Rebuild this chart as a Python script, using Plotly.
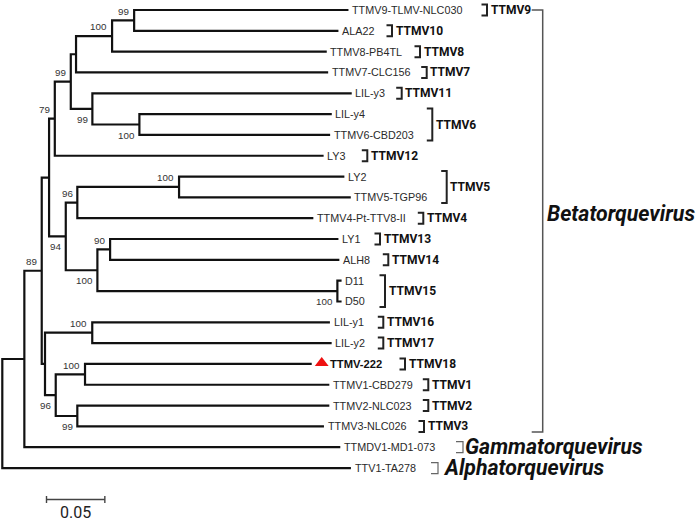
import plotly.graph_objects as go

# ---------------- data: tree topology, branch lengths, bootstrap ----------------
node_names = [
    "root", "nA", "TTV1-TA278", "nBeta", "TTMDV1-MD1-073",
    "n79", "nLow", "n99a", "n94", "n70", "LY3",
    "n76", "n99b", "n100a", "TTMV7-CLC156", "n99c", "TTMV8-PB4TL",
    "TTMV9-TLMV-NLC030", "ALA22", "LIL-y3", "n100b", "LIL-y4", "TTMV6-CBD203",
    "n96a", "n97", "n100c", "TTMV4-Pt-TTV8-II", "LY2", "TTMV5-TGP96",
    "n90", "nD", "LY1", "ALH8", "D11", "D50",
    "n100d", "n96b", "LIL-y1", "LIL-y2", "n100e", "n99d",
    "TTMV-222", "TTMV1-CBD279", "TTMV2-NLC023", "TTMV3-NLC026",
]
node_parent = [
    -1, 0, 0, 1, 1,
    3, 3, 5, 5, 7, 7,
    9, 9, 11, 11, 13, 13,
    15, 15, 12, 12, 20, 20,
    8, 8, 23, 23, 25, 25,
    24, 24, 29, 29, 30, 30,
    6, 6, 35, 35, 36, 36,
    39, 39, 40, 40,
]
branch_length = [
    0.0, 0.0189, 0.2988, 0.0149, 0.2708,
    0.0063, 0.0028, 0.0049, 0.0143, 0.0137, 0.2304,
    0.0045, 0.0185, 0.0309, 0.2161, 0.0189, 0.1840,
    0.1837, 0.1751, 0.2223, 0.0403, 0.1649, 0.1635,
    0.0099, 0.0271, 0.0872, 0.2023, 0.1417, 0.1472,
    0.0109, 0.2057, 0.1957, 0.1965, 0.0036, 0.0036,
    0.0405, 0.0092, 0.2037, 0.2052, 0.0251, 0.0185,
    0.1943, 0.2094, 0.2160, 0.2114,
]
bootstrap = [
    None, None, None, 89, None,
    None, None, 79, 94, 99, None,
    None, 99, 100, None, 99, None,
    None, None, None, 100, None, None,
    96, 100, 100, None, None, None,
    90, 100, None, None, None, None,
    100, 96, None, None, 100, 99,
    None, None, None, None,
]

group_names = ["TTMV9", "TTMV10", "TTMV8", "TTMV7", "TTMV11", "TTMV6", "TTMV12",
               "TTMV5", "TTMV4", "TTMV13", "TTMV14", "TTMV15", "TTMV16", "TTMV17",
               "TTMV18", "TTMV1", "TTMV2", "TTMV3"]
group_first = ["TTMV9-TLMV-NLC030", "ALA22", "TTMV8-PB4TL", "TTMV7-CLC156", "LIL-y3",
               "LIL-y4", "LY3", "LY2", "TTMV4-Pt-TTV8-II", "LY1", "ALH8", "D11",
               "LIL-y1", "LIL-y2", "TTMV-222", "TTMV1-CBD279", "TTMV2-NLC023", "TTMV3-NLC026"]
group_last = ["TTMV9-TLMV-NLC030", "ALA22", "TTMV8-PB4TL", "TTMV7-CLC156", "LIL-y3",
              "TTMV6-CBD203", "LY3", "TTMV5-TGP96", "TTMV4-Pt-TTV8-II", "LY1", "ALH8", "D50",
              "LIL-y1", "LIL-y2", "TTMV-222", "TTMV1-CBD279", "TTMV2-NLC023", "TTMV3-NLC026"]

genus_names = ["Betatorquevirus", "Gammatorquevirus", "Alphatorquevirus"]
genus_first = ["TTMV9-TLMV-NLC030", "TTMDV1-MD1-073", "TTV1-TA278"]
genus_last = ["TTMV3-NLC026", "TTMDV1-MD1-073", "TTV1-TA278"]

highlight_leaf = "TTMV-222"
scale_value = 0.05

# ---------------- layout constants (pixels) ----------------
W, H = 700, 521
PX = 1166.7          # pixels per substitution unit
X0PX = 2.3           # root x pixel
LS = 20.82           # leaf spacing in pixels
Y0PX = 10.0          # first leaf pixel y

group_bracket_px = [487, 392, 420, 426.7, 401.7, 432.3, 367.3, 446.7, 423.3, 380,
                    388.3, 385, 383.3, 383.3, 405, 428.3, 428.3, 424]
genus_bracket_px = [542.7, 463.0, 438.0]
genus_label_px = [547.3, 465.0, 443.0]


def px_x(p):
    return (p - X0PX) / PX


def dpx_y(p):
    return p / LS


# ---------------- tree geometry ----------------
n = len(node_names)
children = [[] for _ in range(n)]
for i, p in enumerate(node_parent):
    if p >= 0:
        children[p].append(i)

xpos = [0.0] * n
for i in range(n):
    p = node_parent[i]
    xpos[i] = (xpos[p] if p >= 0 else 0.0) + branch_length[i]

ypos = [0.0] * n
leaf_order = []


def layout_node(i):
    if not children[i]:
        ypos[i] = float(len(leaf_order))
        leaf_order.append(i)
        return
    for c in children[i]:
        layout_node(c)
    ypos[i] = (ypos[children[i][0]] + ypos[children[i][-1]]) / 2.0


layout_node(0)
idx = {name: i for i, name in enumerate(node_names)}

# branch paths
tx, ty = [], []
for i in range(n):
    if children[i]:
        c1, c2 = children[i][0], children[i][-1]
        tx += [xpos[c1], xpos[i], xpos[i], xpos[c2], None]
        ty += [ypos[c1], ypos[c1], ypos[c2], ypos[c2], None]

fig = go.Figure()
fig.add_trace(go.Scatter(x=tx, y=ty, mode="lines",
                         line=dict(color="#111111", width=2.2),
                         hoverinfo="skip", showlegend=False))

annotations = []

# leaf labels
for i in leaf_order:
    name = node_names[i]
    if name == highlight_leaf:
        annotations.append(dict(x=xpos[i], y=ypos[i], text="<b>" + name + "</b>",
                                xshift=18.5, xanchor="left", yanchor="middle",
                                font=dict(family="Liberation Sans, Arial", size=11.2, color="#111")))
    else:
        annotations.append(dict(x=xpos[i], y=ypos[i], text=name,
                                xshift=3.6, xanchor="left", yanchor="middle",
                                font=dict(family="Liberation Sans, Arial", size=10.8, color="#2a2a2a")))

# highlight triangle
hi = idx[highlight_leaf]
fig.add_trace(go.Scatter(x=[xpos[hi] + 10.0 / PX], y=[ypos[hi] - dpx_y(1.0)], mode="markers",
                         marker=dict(symbol="triangle-up", size=12, color="#ee1111",
                                     line=dict(width=0)),
                         hoverinfo="skip", showlegend=False))

# bootstrap labels
for i in range(n):
    b = bootstrap[i]
    if b is None:
        continue
    p = node_parent[i]
    upper = children[p][0] == i
    annotations.append(dict(x=xpos[i], y=ypos[i], text=str(b),
                            xshift=-4.8, yshift=(9.3 if upper else -10.5),
                            xanchor="right", yanchor="middle",
                            font=dict(family="Liberation Sans, Arial", size=9.8, color="#333")))

# group brackets
gx, gy = [], []
for g, f, l, bx in zip(group_names, group_first, group_last, group_bracket_px):
    yt = ypos[idx[f]] - dpx_y(5.5)
    yb = ypos[idx[l]] + dpx_y(5.5)
    gx += [px_x(bx - 5.5), px_x(bx), px_x(bx), px_x(bx - 5.5), None]
    gy += [yt, yt, yb, yb, None]
    annotations.append(dict(x=px_x(bx), y=(yt + yb) / 2, text="<b>" + g + "</b>",
                            xshift=3.5, xanchor="left", yanchor="middle",
                            font=dict(family="Roboto", size=12, color="#111")))
fig.add_trace(go.Scatter(x=gx, y=gy, mode="lines", line=dict(color="#222", width=2),
                         hoverinfo="skip", showlegend=False))

# genus brackets
bx0 = genus_bracket_px[0]
yt = ypos[idx[genus_first[0]]]
yb = ypos[idx[genus_last[0]]] + dpx_y(5.7)
fig.add_trace(go.Scatter(x=[px_x(bx0 - 11), px_x(bx0), px_x(bx0), px_x(bx0 - 11)],
                         y=[yt, yt, yb, yb], mode="lines",
                         line=dict(color="#555", width=1.5),
                         hoverinfo="skip", showlegend=False))
annotations.append(dict(x=px_x(genus_label_px[0]), y=ypos[idx[genus_first[0]]] + dpx_y(203),
                        text="<b><i>" + genus_names[0] + "</i></b>", xanchor="left", yanchor="middle",
                        font=dict(family="Roboto", size=21.3, color="#111")))
for k in (1, 2):
    bx = genus_bracket_px[k]
    yy = ypos[idx[genus_first[k]]]
    yt2 = yy - dpx_y(5.5)
    yb2 = yy + dpx_y(5.5)
    fig.add_trace(go.Scatter(x=[px_x(bx - 7), px_x(bx), px_x(bx), px_x(bx - 7)],
                             y=[yt2, yt2, yb2, yb2], mode="lines",
                             line=dict(color="#666", width=1.2),
                             hoverinfo="skip", showlegend=False))
    annotations.append(dict(x=px_x(genus_label_px[k]), y=yy - dpx_y(1),
                            text="<b><i>" + genus_names[k] + "</i></b>", xanchor="left", yanchor="middle",
                            font=dict(family="Roboto", size=21.3, color="#111")))

# scale bar
sb_x0 = px_x(46.5)
sb_y = (499.5 - Y0PX) / LS
tick = dpx_y(3.5)
fig.add_trace(go.Scatter(
    x=[sb_x0, sb_x0 + scale_value, None, sb_x0, sb_x0, None, sb_x0 + scale_value, sb_x0 + scale_value],
    y=[sb_y, sb_y, None, sb_y - tick, sb_y + tick, None, sb_y - tick, sb_y + tick],
    mode="lines", line=dict(color="#444", width=1.4),
    hoverinfo="skip", showlegend=False))
annotations.append(dict(x=sb_x0 + scale_value / 2, y=sb_y, text=str(scale_value), yshift=-12.5,
                        xanchor="center", yanchor="middle",
                        font=dict(family="Roboto", size=16, color="#222")))

for a in annotations:
    a.setdefault("showarrow", False)
    a["borderpad"] = 0
    a["borderwidth"] = 0
    a["xref"] = "x"
    a["yref"] = "y"

fig.update_layout(
    width=W, height=H, autosize=False,
    margin=dict(l=0, r=0, t=0, b=0),
    paper_bgcolor="white", plot_bgcolor="white",
    xaxis=dict(range=[-X0PX / PX, (W - X0PX) / PX], visible=False, fixedrange=True),
    yaxis=dict(range=[(H - Y0PX) / LS, -Y0PX / LS], visible=False, fixedrange=True),
    annotations=annotations,
    showlegend=False,
)

fig.write_html("out.html", config={"displayModeBar": False},
               post_script="document.body.style.margin='0';document.body.style.overflow='hidden';")
